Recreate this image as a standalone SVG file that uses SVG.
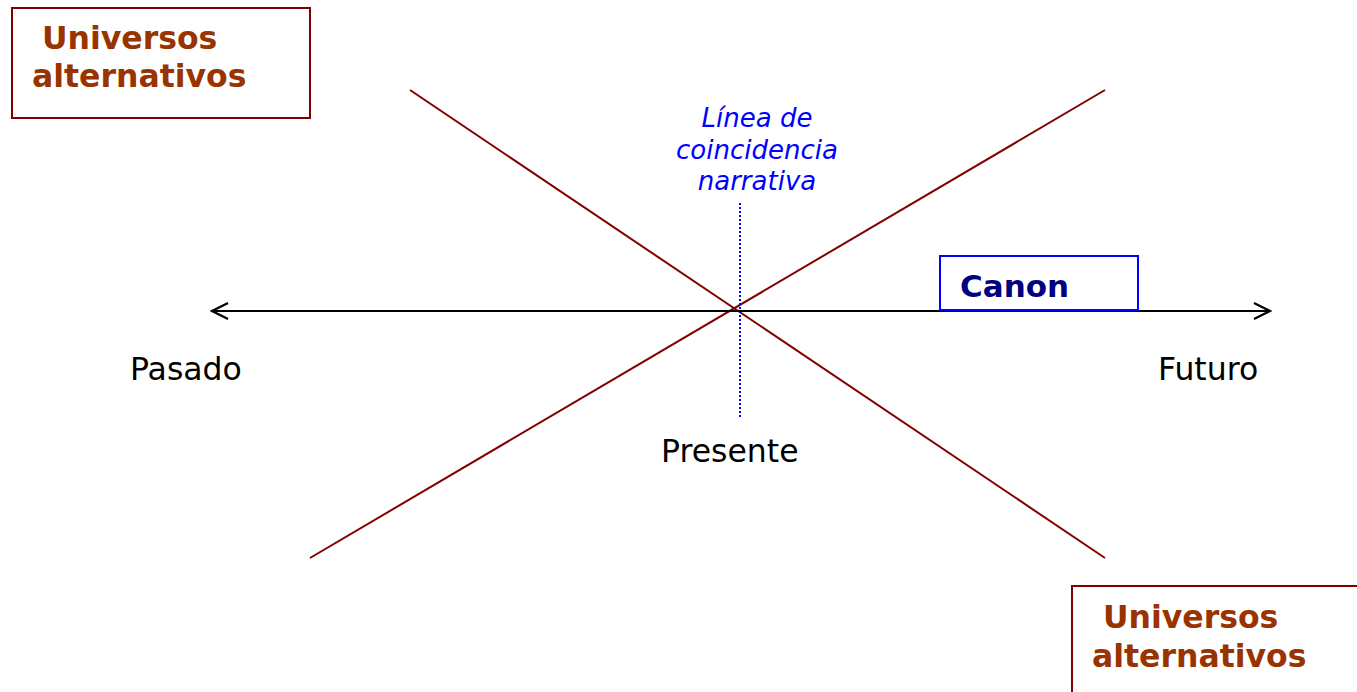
<svg xmlns="http://www.w3.org/2000/svg" width="1357" height="692" viewBox="0 0 1357 692">
<style>
.ua{font-family:"DejaVu Sans",Verdana,sans-serif;font-weight:bold;font-size:31.5px;fill:#993300}
.lbl{font-family:"DejaVu Sans",Verdana,sans-serif;font-size:31.5px;fill:#000}
.nar{font-family:"DejaVu Sans",Verdana,sans-serif;font-style:italic;font-size:26px;fill:#0000ff}
.boxr{fill:#fff;stroke:#800000;stroke-width:2}
.red{stroke:#800000;stroke-width:2;fill:none}
</style>
<defs>
<marker id="ah" viewBox="0 0 20 20" refX="18" refY="10" markerWidth="20" markerHeight="20" markerUnits="userSpaceOnUse" orient="auto-start-reverse">
<path d="M2,2 L18,10 L2,18" fill="none" stroke="#000" stroke-width="2.2"/>
</marker>
</defs>
<g id="connectors">
<line class="red" x1="410" y1="90" x2="1105" y2="558"/>
<line class="red" x1="310" y1="558" x2="1105" y2="90"/>
<line x1="740" y1="203" x2="740" y2="418" stroke="#0000ff" stroke-width="2" stroke-dasharray="2,2"/>
<line x1="212" y1="311" x2="1270" y2="311" stroke="#000" stroke-width="2.2" marker-start="url(#ah)" marker-end="url(#ah)"/>
</g>
<g id="ua-top">
<rect class="boxr" x="12" y="8" width="298" height="110"/>
<text class="ua" x="42" y="49">Universos</text>
<text class="ua" x="32" y="87">alternativos</text>
</g>
<g id="ua-bottom">
<rect class="boxr" x="1072" y="586" width="300" height="120"/>
<text class="ua" x="1103" y="628">Universos</text>
<text class="ua" x="1092" y="667">alternativos</text>
</g>
<g id="canon">
<rect x="940" y="256" width="198" height="54" fill="#fff" stroke="#0000ff" stroke-width="2"/>
<text x="960" y="297" font-family="'DejaVu Sans',Verdana,sans-serif" font-weight="bold" font-size="31" fill="#000080">Canon</text>
</g>
<g id="narrativa">
<text class="nar" text-anchor="middle"><tspan x="757" y="127">Línea de</tspan><tspan x="757" y="159">coincidencia</tspan><tspan x="757" y="190">narrativa</tspan></text>
</g>
<g id="pasado"><text class="lbl" x="130" y="380">Pasado</text></g>
<g id="futuro"><text class="lbl" x="1158" y="380">Futuro</text></g>
<g id="presente"><text class="lbl" x="661" y="462">Presente</text></g>
</svg>
